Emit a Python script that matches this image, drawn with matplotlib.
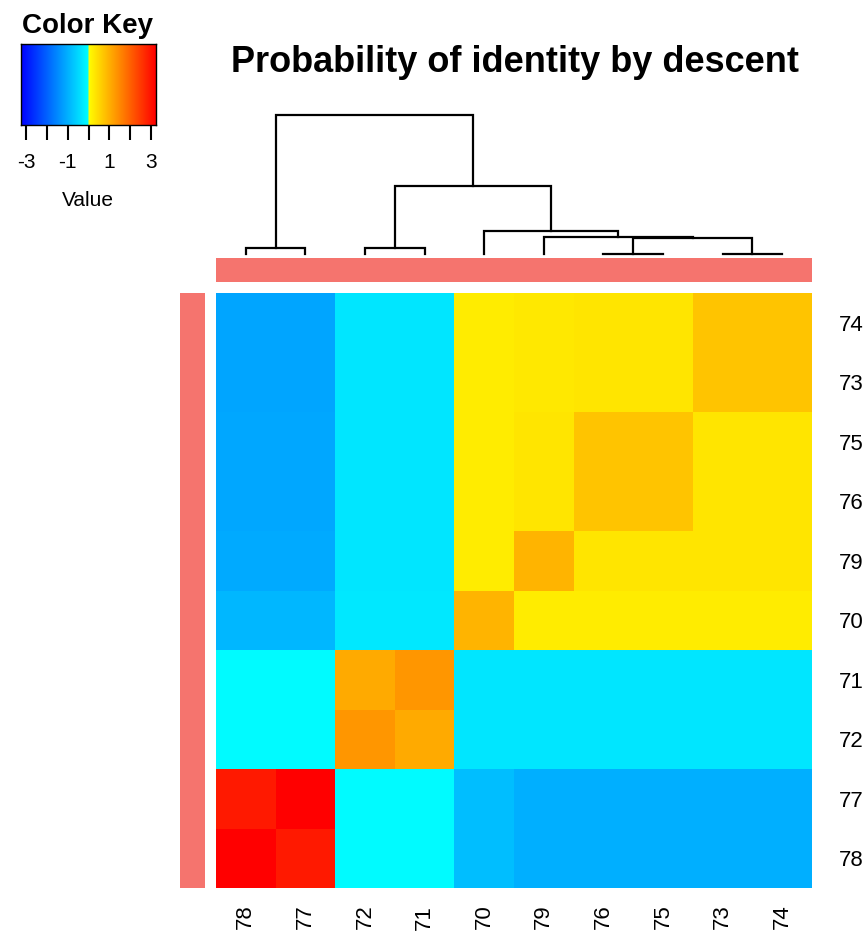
import numpy as np
import matplotlib
matplotlib.use("Agg")
import matplotlib.pyplot as plt
from matplotlib.colors import LinearSegmentedColormap, Normalize, ListedColormap

plt.rcParams['font.family'] = ['Liberation Sans', 'DejaVu Sans']

# sample ids in dendrogram order
col_labels = ["78", "77", "72", "71", "70", "79", "76", "75", "73", "74"]
row_labels = ["74", "73", "75", "76", "79", "70", "71", "72", "77", "78"]

# scaled IBD values, rows top->bottom, columns left->right
ibd = np.array([
    [-1.15, -1.15, -0.32, -0.32, 0.25, 0.30, 0.34, 0.34, 0.76, 0.76],  # 74
    [-1.15, -1.15, -0.32, -0.32, 0.25, 0.30, 0.34, 0.34, 0.76, 0.76],  # 73
    [-1.12, -1.12, -0.32, -0.32, 0.25, 0.34, 0.76, 0.76, 0.34, 0.34],  # 75
    [-1.12, -1.12, -0.32, -0.32, 0.25, 0.34, 0.76, 0.76, 0.34, 0.34],  # 76
    [-1.08, -1.08, -0.32, -0.32, 0.25, 0.96, 0.34, 0.34, 0.34, 0.34],  # 79
    [-0.92, -0.92, -0.30, -0.30, 0.96, 0.25, 0.25, 0.25, 0.25, 0.25],  # 70
    [-0.06, -0.06, 1.08, 1.34, -0.32, -0.32, -0.32, -0.32, -0.32, -0.32],  # 71
    [-0.06, -0.06, 1.34, 1.08, -0.32, -0.32, -0.32, -0.32, -0.32, -0.32],  # 72
    [2.93, 3.25, -0.06, -0.06, -0.83, -1.02, -1.02, -1.02, -1.02, -1.02],  # 77
    [3.25, 2.93, -0.06, -0.06, -0.83, -1.02, -1.02, -1.02, -1.02, -1.02],  # 78
])

# column dendrogram: (left node, right node, height); leaves are 0..9 in display order
merges = [
    (0, 1, 6.3),     # 10: 78-77
    (2, 3, 6.3),     # 11: 72-71
    (6, 7, 0.5),     # 12: 76-75
    (8, 9, 0.5),     # 13: 73-74
    (12, 13, 16.3),  # 14
    (5, 14, 17.3),   # 15
    (4, 15, 23.0),   # 16
    (11, 16, 68.0),  # 17
    (10, 17, 139.0), # 18
]

row_groups = [0] * 10
col_groups = [0] * 10
group_colors = ["#F5746E"]

# blue -> cyan below zero, yellow -> red above
cdict = {
    'red':   [(0.0, 0.0, 0.0), (0.5, 0.0, 1.0), (1.0, 1.0, 1.0)],
    'green': [(0.0, 0.0, 0.0), (0.5, 1.0, 1.0), (1.0, 0.0, 0.0)],
    'blue':  [(0.0, 1.0, 1.0), (0.5, 1.0, 0.0), (1.0, 0.0, 0.0)],
}
cmap = LinearSegmentedColormap('bcyr', cdict, N=512)
vlim = 3.25
norm = Normalize(-vlim, vlim)

W, H = 866, 942
fig = plt.figure(figsize=(W / 100, H / 100), dpi=100)

def box(x0, y0, x1, y1):
    # pixel box (top-left origin) -> figure fraction
    return [x0 / W, 1 - y1 / H, (x1 - x0) / W, (y1 - y0) / H]

# heatmap
ax = fig.add_axes(box(216, 293, 812, 888))
n = len(col_labels)
ax.pcolormesh(np.arange(n + 1), np.arange(n + 1), ibd, cmap=cmap, norm=norm)
ax.set_xlim(0, n)
ax.set_ylim(n, 0)
ax.set_xticks(np.arange(n) + 0.5)
ax.set_xticklabels(col_labels, rotation=90, fontsize=16)
ax.set_yticks(np.arange(n) + 0.5)
ax.set_yticklabels(row_labels, fontsize=16)
ax.yaxis.tick_right()
ax.tick_params(axis='x', length=0, pad=12)
ax.tick_params(axis='y', length=0, pad=19)
for s in ax.spines.values():
    s.set_visible(False)

# side colour bars
grp_cmap = ListedColormap(group_colors)
axr = fig.add_axes(box(180, 293, 205, 888))
axr.pcolormesh([0, 1], np.arange(n + 1), np.array(row_groups)[:, None], cmap=grp_cmap, vmin=0, vmax=len(group_colors) - 1)
axr.set_axis_off()
axc = fig.add_axes(box(216, 258, 812, 282))
axc.pcolormesh(np.arange(n + 1), [0, 1], np.array(col_groups)[None, :], cmap=grp_cmap, vmin=0, vmax=len(group_colors) - 1)
axc.set_axis_off()

# column dendrogram
axd = fig.add_axes(box(216, 115, 812, 254))
xpos = {i: i + 0.5 for i in range(n)}
hgt = {i: 0.0 for i in range(n)}
for k, (a, b, h) in enumerate(merges):
    node = n + k
    axd.plot([xpos[a], xpos[a], xpos[b], xpos[b]], [hgt[a], h, h, hgt[b]],
             color='black', lw=1.6, solid_joinstyle='miter', clip_on=False)
    xpos[node] = (xpos[a] + xpos[b]) / 2
    hgt[node] = h
axd.set_xlim(0, n)
axd.set_ylim(0, merges[-1][2])
axd.set_axis_off()

# colour key
axk = fig.add_axes(box(21, 44, 156, 125))
grad = np.linspace(-vlim, vlim, 400)
axk.imshow(grad[None, :], aspect='auto', cmap=cmap, norm=norm,
           extent=[-vlim, vlim, 0, 1])
axk.set_xlim(-vlim, vlim)
axk.set_yticks([])
axk.set_xticks([-3, -1, 1, 3])
axk.set_xticklabels(["-3", "-1", "1", "3"], fontsize=15)
axk.set_xticks([-2, 0, 2], minor=True)
axk.tick_params(axis='x', which='both', length=11, width=1.5, pad=9, direction='out')
for s in axk.spines.values():
    s.set_linewidth(1.0)

fig.text(88 / W, 1 - 33 / H, "Color Key", fontsize=20, fontweight='bold',
         ha='center', va='baseline')
fig.text(88 / W, 1 - 200 / H, "Value", fontsize=15, ha='center', va='center')

fig.text(515 / W, 1 - 72 / H, "Probability of identity by descent",
         fontsize=26, fontweight='bold', ha='center', va='baseline')

fig.savefig("out.png", dpi=100, facecolor='white')
